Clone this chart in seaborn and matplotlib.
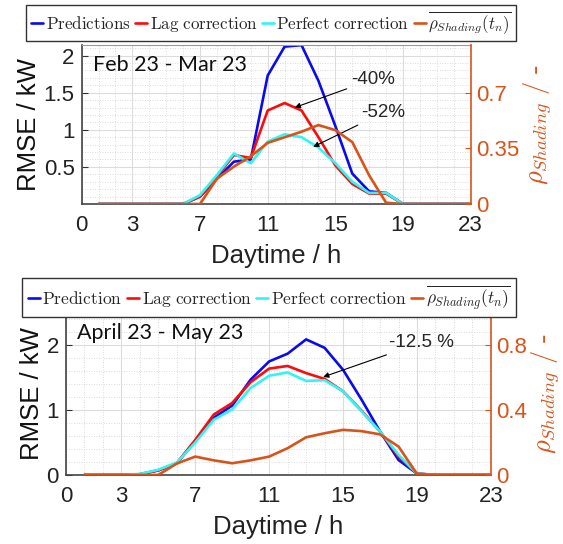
import matplotlib
matplotlib.use("Agg")
import matplotlib.pyplot as plt
import seaborn as sns
import pandas as pd
from matplotlib.ticker import MultipleLocator, FormatStrFormatter

# --- data (hourly RMSE) ---
hours = list(range(1, 24))
x_ticks = [0, 3, 7, 11, 15, 19, 23]

feb_pred = [0, 0, 0, 0, 0, 0, 0.10, 0.34, 0.57, 0.60, 1.73, 2.12, 2.14, 1.66, 1.05, 0.41, 0.17, 0.15, 0, 0, 0, 0, 0]
feb_lag = [0, 0, 0, 0, 0, 0, 0.10, 0.37, 0.66, 0.62, 1.26, 1.36, 1.26, 0.90, 0.52, 0.27, 0.14, 0.14, 0, 0, 0, 0, 0]
feb_perfect = [0, 0, 0, 0, 0, 0, 0.12, 0.39, 0.68, 0.55, 0.84, 0.94, 0.90, 0.76, 0.55, 0.30, 0.15, 0.15, 0, 0, 0, 0, 0]
feb_shading = [0, 0, 0, 0, 0, 0, 0, 0.16, 0.235, 0.30, 0.385, 0.42, 0.455, 0.497, 0.465, 0.39, 0.18, 0.008, 0, 0, 0, 0, 0]

apr_pred = [0, 0, 0, 0.01, 0.07, 0.18, 0.52, 0.88, 1.07, 1.47, 1.75, 1.87, 2.09, 1.96, 1.62, 1.16, 0.67, 0.23, 0.02, 0, 0, 0, 0]
apr_lag = [0, 0, 0, 0.01, 0.07, 0.18, 0.54, 0.93, 1.11, 1.43, 1.64, 1.68, 1.57, 1.48, 1.29, 0.99, 0.67, 0.28, 0.02, 0, 0, 0, 0]
apr_perfect = [0, 0, 0, 0.015, 0.08, 0.19, 0.50, 0.85, 1.01, 1.34, 1.53, 1.58, 1.45, 1.46, 1.29, 0.98, 0.67, 0.31, 0.02, 0, 0, 0, 0]
apr_shading = [0, 0, 0, 0, 0, 0.07, 0.113, 0.09, 0.072, 0.09, 0.113, 0.165, 0.232, 0.257, 0.278, 0.27, 0.25, 0.175, 0.006, 0, 0, 0, 0]

BLUE = "#0a0af0"
RED = "#ff0a0a"
CYAN = "#30f5f5"
ORANGE = "#d95319"

sns.set_style("white")
plt.rcParams["font.family"] = ["Liberation Sans", "DejaVu Sans"]
plt.rcParams["mathtext.fontset"] = "cm"


def draw_panel(fig, rect, pred, lag, perfect, shading, labels, ylim, yticks, yminor,
               rlim, rticks, rticklabels, period, period_pos, legend_center, legend_size):
    ax = fig.add_axes(rect)
    df = pd.DataFrame({"h": hours, "pred": pred, "lag": lag, "perfect": perfect, "shading": shading})

    sns.lineplot(data=df, x="h", y="pred", ax=ax, color=BLUE, lw=1.9)
    sns.lineplot(data=df, x="h", y="lag", ax=ax, color=RED, lw=1.9)
    sns.lineplot(data=df, x="h", y="perfect", ax=ax, color=CYAN, lw=1.9)

    ax.set_xlim(0, 23)
    ax.set_ylim(*ylim)
    ax.set_xticks(x_ticks)
    ax.set_yticks(yticks)
    ax.yaxis.set_major_formatter(FormatStrFormatter("%g"))
    ax.xaxis.set_minor_locator(MultipleLocator(1))
    ax.yaxis.set_minor_locator(MultipleLocator(yminor))
    ax.grid(True, which="major", color="#dcdcdc", lw=0.8)
    ax.grid(True, which="minor", color="#d0d0d0", lw=0.6, ls=(0, (1, 2)))
    ax.set_axisbelow(True)
    ax.tick_params(axis="both", which="major", direction="in", labelsize=16, length=4, pad=5,
                   color="#333333", labelcolor="#222222")
    ax.tick_params(axis="x", which="major", pad=8)
    ax.tick_params(axis="both", which="minor", length=0)
    ax.set_xlabel("Daytime / h", fontsize=18.5, color="#222222", labelpad=6)
    ax.set_ylabel("RMSE / kW", fontsize=18.5, color="#111111", labelpad=2)
    for side in ["left", "bottom"]:
        ax.spines[side].set_color("#444444")
        ax.spines[side].set_linewidth(1.2)
    ax.spines["top"].set_color("#999999")
    ax.spines["right"].set_visible(False)

    ax2 = ax.twinx()
    sns.lineplot(data=df, x="h", y="shading", ax=ax2, color=ORANGE, lw=1.9)
    ax2.set_ylim(*rlim)
    ax2.set_yticks(rticks)
    ax2.set_yticklabels(rticklabels)
    ax2.tick_params(axis="y", direction="in", labelsize=16, length=4, pad=4,
                    color=ORANGE, labelcolor=ORANGE)
    ax2.set_ylabel(r"$\rho_{Shading}\ /\ \text{-}$", fontsize=19, color=ORANGE, labelpad=1)
    ax2.spines["right"].set_color(ORANGE)
    ax2.spines["right"].set_linewidth(1.2)
    for side in ["left", "top", "bottom"]:
        ax2.spines[side].set_visible(False)

    ax.text(period_pos[0], period_pos[1], period, transform=ax.transAxes,
            fontsize=15.5, family="Lato", va="center", ha="left", color="#111111")

    handles = ax.get_lines()[:3] + ax2.get_lines()[:1]
    fig.legend(handles, labels, loc="center", bbox_to_anchor=legend_center, ncol=4,
               fontsize=legend_size, frameon=True, fancybox=False, edgecolor="#333333",
               framealpha=1, handlelength=0.7, handletextpad=0.15, columnspacing=0.25,
               borderpad=0.3, borderaxespad=0)
    return ax, ax2


fig = plt.figure(figsize=(5.63, 5.44), dpi=100)

top_labels = [r"$\mathrm{Predictions}$", r"$\mathrm{Lag\ correction}$",
              r"$\mathrm{Perfect\ correction}$", r"$\overline{\rho_{Shading}(t_n)}$"]
bot_labels = [r"$\mathrm{Prediction}$", r"$\mathrm{Lag\ correction}$",
              r"$\mathrm{Perfect\ correction}$", r"$\overline{\rho_{Shading}(t_n)}$"]

ax_top, _ = draw_panel(fig, [0.145, 0.625, 0.691, 0.292], feb_pred, feb_lag, feb_perfect, feb_shading,
                       top_labels, (0, 2.14), [0.5, 1, 1.5, 2], 0.1,
                       (0, 1.0), [0, 0.35, 0.7], ["0", "0.35", "0.7"],
                       "Feb 23 - Mar 23", (0.03, 0.874), (0.482, 0.958), 12.25)

ax_bot, _ = draw_panel(fig, [0.117, 0.127, 0.755, 0.298], apr_pred, apr_lag, apr_perfect, apr_shading,
                       bot_labels, (0, 2.5), [0, 1, 2], 0.2,
                       (0, 1.0), [0, 0.4, 0.8], ["0", "0.4", "0.8"],
                       "April 23 - May 23", (0.026, 0.878), (0.478, 0.453), 12.5)

arrow = dict(arrowstyle="-|>", color="black", lw=0.8, mutation_scale=8, shrinkA=1, shrinkB=0)
ax_top.annotate("-40%", xy=(12.6, 1.30), xytext=(17.24, 1.68), fontsize=13.5,
                ha="center", va="center", arrowprops=arrow)
ax_top.annotate("-52%", xy=(13.69, 0.77), xytext=(17.83, 1.23), fontsize=13.5,
                ha="center", va="center", arrowprops=arrow)
ax_bot.annotate("-12.5 %", xy=(13.92, 1.51), xytext=(19.24, 2.04), fontsize=13.5,
                ha="center", va="center", arrowprops=arrow)

plt.savefig("out.png", dpi=100)
